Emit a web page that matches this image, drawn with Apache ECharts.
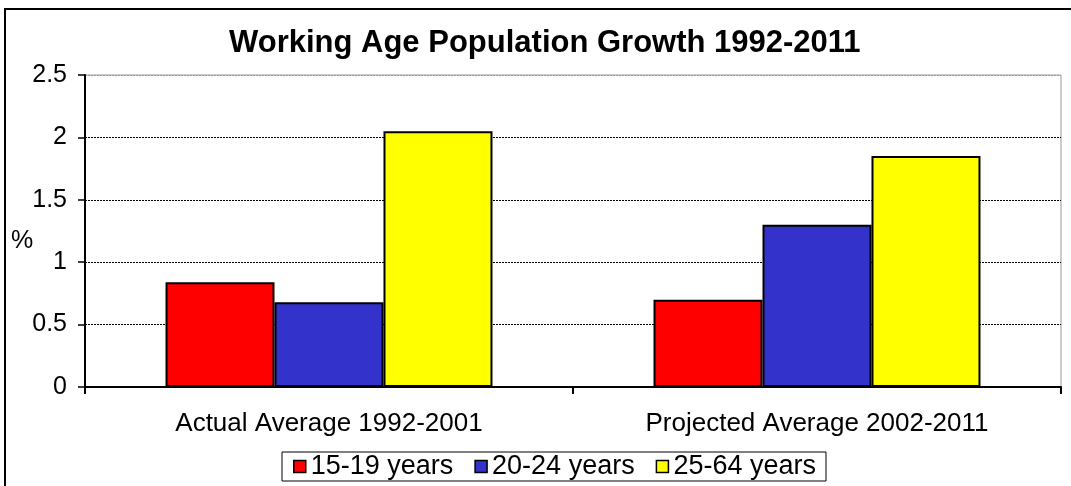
<!DOCTYPE html>
<html>
<head>
<meta charset="utf-8">
<script src="https://cdn.jsdelivr.net/npm/echarts@6/dist/echarts.min.js"></script>
<style>
  html, body { margin: 0; padding: 0; background: #fff; }
  #chart { width: 1071px; height: 486px; }
</style>
</head>
<body>
<div id="chart"></div>
<script>
// Periods shown along the category axis
const periods = ['Actual Average 1992-2001', 'Projected Average 2002-2011'];

// Average annual growth (%) per age band
const ages15to19 = [0.84, 0.70];
const ages20to24 = [0.68, 1.30];
const ages25to64 = [2.05, 1.85];

const seriesNames = ['15-19 years', '20-24 years', '25-64 years'];
const seriesColors = ['#FF0000', '#3333CC', '#FFFF00'];

const yTicks = { min: 0, max: 2.5, interval: 0.5 };
const yUnit = '%';

const FONT = 'Liberation Sans, Arial, sans-serif';

const chart = echarts.init(document.getElementById('chart'), null, { renderer: 'canvas' });

const seriesData = [ages15to19, ages20to24, ages25to64];

chart.setOption({
  animation: false,
  backgroundColor: '#fff',
  textStyle: { fontFamily: FONT, color: '#000' },
  title: {
    text: 'Working Age Population Growth 1992-2011',
    left: 229,
    top: 28,
    padding: 0,
    textStyle: { fontFamily: FONT, fontSize: 31, fontWeight: 'bold', color: '#000' }
  },
  graphic: [{
    // outer frame of the chart
    type: 'rect',
    silent: true,
    z: -1,
    shape: { x: 5, y: 9, width: 1100, height: 520 },
    style: { fill: 'none', stroke: '#000', lineWidth: 2 }
  }, {
    // unit label beside the value axis
    type: 'text',
    silent: true,
    left: 11,
    top: 229,
    style: { text: yUnit, font: '25px ' + FONT, fill: '#000' }
  }],
  legend: {
    data: seriesNames,
    left: 282,
    top: 452,
    orient: 'horizontal',
    icon: 'rect',
    itemWidth: 12,
    itemHeight: 12,
    itemGap: 21,
    padding: [1, 10, 1, 11],
    borderColor: '#000',
    borderWidth: 1,
    backgroundColor: '#fff',
    textStyle: { fontFamily: FONT, fontSize: 27, lineHeight: 26, color: '#000' },
    itemStyle: { borderColor: '#000', borderWidth: 1.5 }
  },
  grid: {
    left: 85,
    right: 10,
    top: 75,
    bottom: 99,
    show: true,
    borderColor: '#999',
    borderWidth: 1,
    backgroundColor: '#fff'
  },
  xAxis: {
    type: 'category',
    data: periods,
    axisLine: { lineStyle: { color: '#000', width: 2 } },
    axisTick: { show: true, length: 7, lineStyle: { color: '#000', width: 2 } },
    axisLabel: { margin: 24, fontFamily: FONT, fontSize: 26, color: '#000' },
    splitLine: { show: false }
  },
  yAxis: {
    type: 'value',
    min: yTicks.min,
    max: yTicks.max,
    interval: yTicks.interval,
    axisLine: { show: true, lineStyle: { color: '#000', width: 2 } },
    axisTick: { show: true, length: 7, lineStyle: { color: '#000', width: 1.5 } },
    axisLabel: { margin: 18, fontFamily: FONT, fontSize: 25, color: '#000' },
    splitLine: {
      show: true,
      lineStyle: {
        color: ['#000', '#000', '#000', '#000', '#000', '#999'],
        width: 1,
        type: [2, 1]
      }
    }
  },
  series: seriesNames.map((name, i) => ({
    name: name,
    type: 'bar',
    data: seriesData[i],
    barGap: '0%',
    barCategoryGap: '33%',
    itemStyle: { color: seriesColors[i], borderColor: '#000', borderWidth: 2 }
  }))
});
</script>
</body>
</html>
